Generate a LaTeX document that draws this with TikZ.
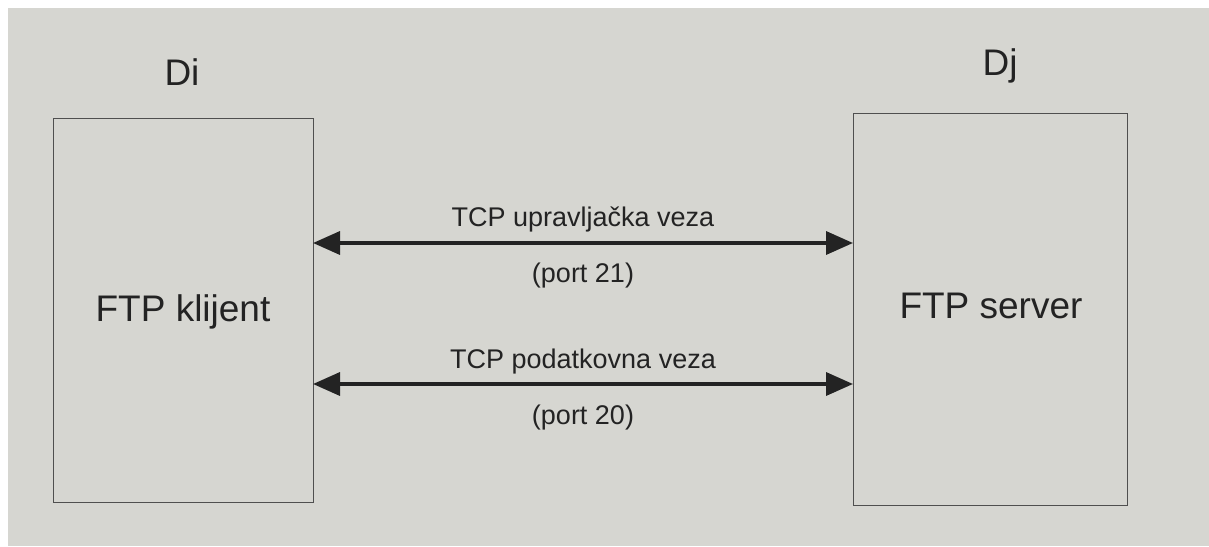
\documentclass[tikz,border=0pt]{standalone}
\usepackage{fontspec}
\setmainfont{Liberation Sans}
\usetikzlibrary{arrows.meta}
\definecolor{paper}{RGB}{214,214,209}
\definecolor{ink}{RGB}{35,35,35}
\begin{document}
\begin{tikzpicture}[x=1pt,y=-1pt,
  hostbox/.style={draw=ink!80, line width=0.8pt, fill=none},
  conn/.style={draw=ink, line width=3.5pt, {Triangle[length=27pt,width=23pt]}-{Triangle[length=27pt,width=23pt]}},
  lbl/.style={text=ink, font=\fontsize{27}{32}\selectfont, inner sep=0pt},
  big/.style={text=ink, font=\fontsize{37}{44}\selectfont, inner sep=0pt}]
\useasboundingbox (0,0) rectangle (1209,546);
\fill[white] (0,0) rectangle (1209,546);
\fill[paper] (8,8) rectangle (1209,546);
\draw[hostbox] (53,118) rectangle (313,502);
\draw[hostbox] (853,113) rectangle (1127,505);
\coordinate (L1) at (313,243);
\coordinate (R1) at (853,243);
\coordinate (L2) at (313,384);
\coordinate (R2) at (853,384);
\draw[conn] (L1) -- (R1);
\draw[conn] (L2) -- (R2);
\node[big] (di) at (182,72) {Di};
\node[big] (dj) at (1000,66) {Dj};
\node[big] (cl) at (183,312) {FTP klijent};
\node[big] (sv) at (991,306) {FTP server};
\node[lbl] (t1) at (583,219) {TCP upravljačka veza};
\node[lbl] (p1) at (583,276) {(port 21)};
\node[lbl] (t2) at (583,362) {TCP podatkovna veza};
\node[lbl] (p2) at (583,418) {(port 20)};
\end{tikzpicture}
\end{document}
